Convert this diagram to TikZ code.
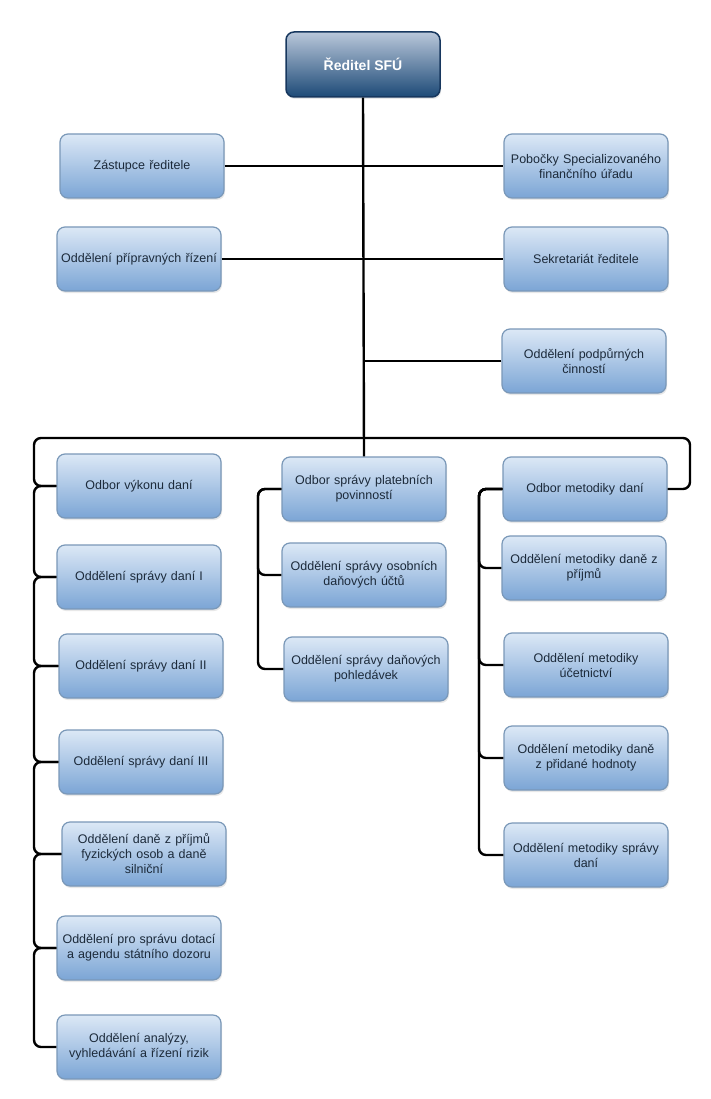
\documentclass[tikz,border=0pt]{standalone}
\usepackage{fontspec}
\setmainfont{Liberation Sans}
\usetikzlibrary{shadows}
\definecolor{boxtop}{HTML}{DCE8F6}
\definecolor{boxbot}{HTML}{7BA5D5}
\definecolor{boxedge}{HTML}{7A98B8}
\definecolor{txt}{HTML}{1C2A3A}
\definecolor{dtop}{HTML}{B9C7DA}
\definecolor{dbot}{HTML}{1D4A77}
\definecolor{dedge}{HTML}{17375E}
\begin{document}
\begin{tikzpicture}[x=1pt,y=-1pt,
  box/.style={draw=boxedge, line width=1.2pt, rounded corners=8pt,
    minimum width=164pt, minimum height=64pt, top color=boxtop, bottom color=boxbot,
    text width=158pt, align=center, inner sep=3pt, text=txt,
    font=\fontsize{12.5}{15}\selectfont,
    drop shadow={opacity=0.18, shadow xshift=1pt, shadow yshift=-2pt}},
  dirbox/.style={draw=dedge, line width=1.5pt, rounded corners=8pt,
    minimum width=154pt, minimum height=65pt, top color=dtop, bottom color=dbot,
    align=center, text=white, font=\fontsize{14}{16}\selectfont\bfseries,
    drop shadow={opacity=0.18, shadow xshift=1pt, shadow yshift=-2pt}},
  conn/.style={line width=2.4pt, rounded corners=7pt}]
\useasboundingbox[fill=white] (0,0) rectangle (711,1099);

\node[dirbox] (dir) at (363,64.5) {Ředitel SFÚ};

\node[box] (zast) at (142,166) {Zástupce ředitele};
\node[box] (pob)  at (586,166) {Pobočky Specializovaného\\finančního úřadu};
\node[box] (prip) at (139,259) {Oddělení přípravných řízení};
\node[box] (sekr) at (586,259) {Sekretariát ředitele};
\node[box] (podp) at (584,361) {Oddělení podpůrných\\činností};

\node[box] (vyk)  at (139,486) {Odbor výkonu daní};
\node[box] (sd1)  at (139,577) {Oddělení správy daní I};
\node[box] (sd2)  at (141,666) {Oddělení správy daní II};
\node[box] (sd3)  at (141,762) {Oddělení správy daní III};
\node[box] (fo)   at (144,854) {Oddělení daně z příjmů\\fyzických osob a daně\\silniční};
\node[box] (dot)  at (139,948) {Oddělení pro správu dotací\\a agendu státního dozoru};
\node[box] (anal) at (139,1047) {Oddělení analýzy,\\vyhledávání a řízení rizik};

\node[box] (plat) at (364,489) {Odbor správy platebních\\povinností};
\node[box] (osob) at (364,575) {Oddělení správy osobních\\daňových účtů};
\node[box] (pohl) at (366,669) {Oddělení správy daňových\\pohledávek};

\node[box] (metod) at (585,489) {Odbor metodiky daní};
\node[box] (mp)    at (584,568) {Oddělení metodiky daně z\\příjmů};
\node[box] (muc)   at (586,665) {Oddělení metodiky\\účetnictví};
\node[box] (dph)   at (586,758) {Oddělení metodiky daně\\z přidané hodnoty};
\node[box] (msd)   at (586,855) {Oddělení metodiky správy\\daní};

\coordinate (bl) at (34,438);
\coordinate (br) at (690,438);
\coordinate (lx) at (34,0);
\coordinate (mx) at (258,0);
\coordinate (rx) at (479,0);

% trunk and side branches
\draw[conn] (dir.south) -- (plat.north);
\draw[conn] (zast.east) -- (pob.west);
\draw[conn] (prip.east) -- (sekr.west);
\draw[conn] (podp.west) -- (podp.west -| dir.south);

% bus
\draw[conn] (vyk.west) -| (bl) -- (br) |- (metod.east);

% left chain
\draw[conn] (vyk.west) -- (vyk.west -| lx) |- (sd1.west);
\draw[conn] (sd1.west) -- (sd1.west -| lx) |- (sd2.west);
\draw[conn] (sd2.west) -- (sd2.west -| lx) |- (sd3.west);
\draw[conn] (sd3.west) -- (sd3.west -| lx) |- (fo.west);
\draw[conn] (fo.west) -- (fo.west -| lx) |- (dot.west);
\draw[conn] (dot.west) -- (dot.west -| lx) |- (anal.west);

% middle
\draw[conn] (plat.west) -- (plat.west -| mx) |- (osob.west);
\draw[conn] (plat.west) -- (plat.west -| mx) |- (pohl.west);

% right
\draw[conn] (metod.west) -- (metod.west -| rx) |- (mp.west);
\draw[conn] (metod.west) -- (metod.west -| rx) |- (muc.west);
\draw[conn] (metod.west) -- (metod.west -| rx) |- (dph.west);
\draw[conn] (metod.west) -- (metod.west -| rx) |- (msd.west);
\end{tikzpicture}
\end{document}
